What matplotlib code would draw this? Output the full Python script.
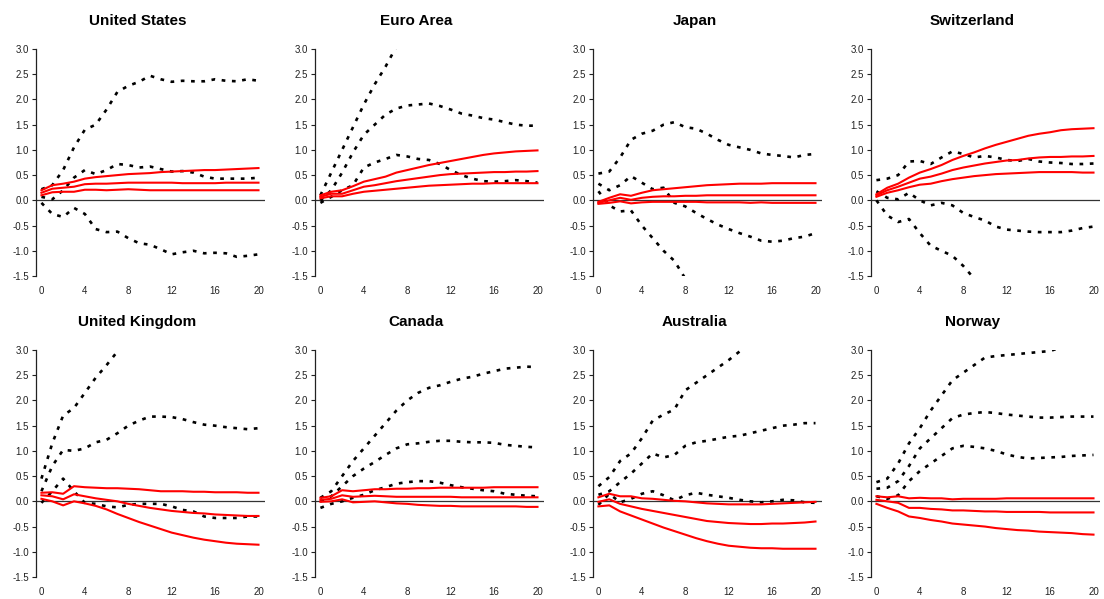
import matplotlib
matplotlib.use("Agg")
import matplotlib.pyplot as plt

plt.rcParams['font.family'] = ['Liberation Sans', 'DejaVu Sans']

horizon = list(range(21))
countries = ["United States", "Euro Area", "Japan", "Switzerland",
             "United Kingdom", "Canada", "Australia", "Norway"]
x_ticks = [0, 4, 8, 12, 16, 20]
y_ticks = [-1.5, -1.0, -0.5, 0.0, 0.5, 1.0, 1.5, 2.0, 2.5, 3.0]

# red lines: point estimates (upper, middle, lower)
us_red = [
    [0.2, 0.3, 0.33, 0.37, 0.43, 0.46, 0.48, 0.5, 0.52, 0.53, 0.54, 0.56, 0.57, 0.58, 0.59, 0.6, 0.6, 0.61, 0.62, 0.63, 0.64],
    [0.15, 0.23, 0.25, 0.27, 0.32, 0.33, 0.33, 0.34, 0.35, 0.35, 0.35, 0.35, 0.35, 0.34, 0.34, 0.34, 0.34, 0.35, 0.35, 0.35, 0.35],
    [0.1, 0.16, 0.17, 0.17, 0.21, 0.21, 0.2, 0.21, 0.22, 0.21, 0.2, 0.2, 0.2, 0.2, 0.2, 0.2, 0.2, 0.2, 0.2, 0.2, 0.2],
]
us_band = [
    [0.22, 0.3, 0.6, 1.05, 1.4, 1.5, 1.8, 2.15, 2.27, 2.35, 2.47, 2.4, 2.35, 2.37, 2.36, 2.36, 2.4, 2.37, 2.36, 2.4, 2.37],
    [0.07, 0.02, 0.2, 0.45, 0.6, 0.52, 0.6, 0.72, 0.7, 0.65, 0.67, 0.62, 0.57, 0.58, 0.55, 0.47, 0.43, 0.43, 0.43, 0.43, 0.45],
    [-0.05, -0.27, -0.33, -0.15, -0.27, -0.57, -0.63, -0.62, -0.75, -0.85, -0.88, -0.97, -1.07, -1.03, -1.0, -1.05, -1.04, -1.05, -1.12, -1.1, -1.07],
]

ea_red = [
    [0.1, 0.17, 0.2, 0.28, 0.37, 0.42, 0.47, 0.55, 0.6, 0.65, 0.7, 0.74, 0.78, 0.82, 0.86, 0.9, 0.93, 0.95, 0.97, 0.98, 0.99],
    [0.07, 0.13, 0.13, 0.2, 0.27, 0.3, 0.34, 0.38, 0.41, 0.44, 0.47, 0.5, 0.52, 0.53, 0.54, 0.55, 0.56, 0.56, 0.57, 0.57, 0.58],
    [0.04, 0.08, 0.08, 0.13, 0.17, 0.19, 0.21, 0.23, 0.25, 0.27, 0.29, 0.3, 0.31, 0.32, 0.33, 0.33, 0.34, 0.34, 0.34, 0.34, 0.34],
]
ea_band = [
    [0.1, 0.55, 1.0, 1.45, 1.9, 2.3, 2.65, 3.05, 3.4, 3.7, 3.9, 4.1, 4.2, 4.3, 4.4, 4.4, 4.5, 4.5, 4.5, 4.5, 4.5],
    [0.0, 0.2, 0.55, 0.95, 1.3, 1.5, 1.7, 1.82, 1.88, 1.9, 1.92, 1.87, 1.8, 1.72, 1.68, 1.63, 1.6, 1.55, 1.5, 1.48, 1.48],
    [-0.05, 0.07, 0.2, 0.3, 0.65, 0.75, 0.82, 0.9, 0.87, 0.82, 0.8, 0.72, 0.6, 0.5, 0.43, 0.38, 0.37, 0.38, 0.4, 0.38, 0.35],
]

jp_red = [
    [-0.03, 0.05, 0.12, 0.09, 0.15, 0.2, 0.22, 0.24, 0.26, 0.28, 0.3, 0.31, 0.32, 0.33, 0.33, 0.33, 0.34, 0.34, 0.34, 0.34, 0.34],
    [-0.05, 0.0, 0.05, 0.01, 0.05, 0.07, 0.08, 0.08, 0.09, 0.09, 0.1, 0.1, 0.1, 0.1, 0.1, 0.1, 0.1, 0.1, 0.1, 0.1, 0.1],
    [-0.07, -0.05, -0.02, -0.06, -0.04, -0.03, -0.03, -0.03, -0.03, -0.03, -0.04, -0.04, -0.04, -0.04, -0.05, -0.04, -0.05, -0.05, -0.05, -0.05, -0.05],
]
jp_band = [
    [0.53, 0.57, 0.85, 1.2, 1.32, 1.38, 1.5, 1.55, 1.45, 1.42, 1.32, 1.2, 1.1, 1.05, 1.0, 0.93, 0.9, 0.88, 0.85, 0.9, 0.92],
    [0.33, 0.2, 0.3, 0.48, 0.35, 0.22, 0.25, -0.05, -0.12, -0.25, -0.37, -0.48, -0.57, -0.65, -0.72, -0.8, -0.82, -0.8, -0.75, -0.72, -0.65],
    [0.18, -0.1, -0.22, -0.2, -0.5, -0.75, -1.0, -1.2, -1.55, -1.8, -2.0, -2.2, -2.3, -2.4, -2.5, -2.5, -2.6, -2.6, -2.6, -2.6, -2.6],
]

ch_red = [
    [0.12, 0.25, 0.33, 0.45, 0.55, 0.62, 0.7, 0.8, 0.88, 0.95, 1.03, 1.1, 1.16, 1.22, 1.28, 1.32, 1.35, 1.39, 1.41, 1.42, 1.43],
    [0.1, 0.2, 0.27, 0.35, 0.43, 0.47, 0.53, 0.6, 0.65, 0.69, 0.73, 0.76, 0.79, 0.8, 0.83, 0.85, 0.86, 0.86, 0.87, 0.87, 0.88],
    [0.07, 0.15, 0.2, 0.26, 0.31, 0.33, 0.38, 0.42, 0.45, 0.48, 0.5, 0.52, 0.53, 0.54, 0.55, 0.56, 0.56, 0.56, 0.56, 0.55, 0.55],
]
ch_band = [
    [0.4, 0.43, 0.5, 0.77, 0.78, 0.72, 0.85, 0.97, 0.92, 0.85, 0.88, 0.85, 0.8, 0.78, 0.82, 0.77, 0.75, 0.74, 0.72, 0.72, 0.73],
    [0.18, 0.05, 0.02, 0.15, 0.0, -0.1, -0.05, -0.1, -0.25, -0.33, -0.4, -0.52, -0.58, -0.6, -0.62, -0.63, -0.63, -0.63, -0.6, -0.55, -0.52],
    [0.0, -0.3, -0.43, -0.37, -0.65, -0.9, -1.0, -1.1, -1.3, -1.55, -1.75, -1.9, -2.0, -2.1, -2.2, -2.2, -2.3, -2.3, -2.3, -2.3, -2.3],
]

uk_red = [
    [0.17, 0.18, 0.15, 0.3, 0.28, 0.27, 0.26, 0.26, 0.25, 0.24, 0.22, 0.2, 0.2, 0.2, 0.19, 0.19, 0.18, 0.18, 0.18, 0.17, 0.17],
    [0.12, 0.1, 0.04, 0.14, 0.1, 0.06, 0.03, 0.0, -0.05, -0.09, -0.13, -0.16, -0.19, -0.21, -0.23, -0.24, -0.26, -0.27, -0.28, -0.29, -0.29],
    [0.05, 0.0, -0.08, 0.0, -0.04, -0.09, -0.16, -0.25, -0.33, -0.41, -0.48, -0.55, -0.62, -0.67, -0.72, -0.76, -0.79, -0.82, -0.84, -0.85, -0.86],
]
uk_band = [
    [0.45, 1.15, 1.7, 1.85, 2.15, 2.45, 2.7, 2.97, 3.3, 3.6, 3.8, 4.0, 4.1, 4.2, 4.3, 4.3, 4.4, 4.4, 4.4, 4.4, 4.4],
    [0.2, 0.7, 1.02, 1.0, 1.05, 1.17, 1.22, 1.35, 1.5, 1.6, 1.68, 1.68, 1.67, 1.63, 1.57, 1.52, 1.5, 1.47, 1.45, 1.43, 1.45],
    [-0.03, 0.2, 0.45, 0.2, -0.03, -0.05, -0.1, -0.12, -0.07, -0.05, -0.05, -0.05, -0.1, -0.17, -0.2, -0.3, -0.33, -0.33, -0.33, -0.3, -0.3],
]

ca_red = [
    [0.07, 0.1, 0.22, 0.2, 0.22, 0.24, 0.24, 0.25, 0.25, 0.26, 0.26, 0.27, 0.27, 0.27, 0.27, 0.27, 0.28, 0.28, 0.28, 0.28, 0.28],
    [0.03, 0.05, 0.12, 0.09, 0.1, 0.11, 0.1, 0.09, 0.09, 0.09, 0.09, 0.09, 0.09, 0.08, 0.08, 0.08, 0.08, 0.08, 0.08, 0.08, 0.08],
    [-0.01, 0.0, 0.04, -0.02, -0.01, 0.0, -0.02, -0.04, -0.05, -0.07, -0.08, -0.09, -0.09, -0.1, -0.1, -0.1, -0.1, -0.1, -0.1, -0.11, -0.11],
]
ca_band = [
    [0.07, 0.2, 0.5, 0.8, 1.05, 1.3, 1.55, 1.8, 2.0, 2.15, 2.25, 2.3, 2.37, 2.43, 2.47, 2.53, 2.58, 2.63, 2.65, 2.67, 2.66],
    [0.0, 0.1, 0.3, 0.5, 0.65, 0.78, 0.92, 1.05, 1.13, 1.15, 1.18, 1.2, 1.2, 1.18, 1.17, 1.17, 1.16, 1.12, 1.1, 1.08, 1.07],
    [-0.13, -0.05, 0.0, 0.07, 0.13, 0.22, 0.28, 0.35, 0.38, 0.4, 0.4, 0.37, 0.32, 0.28, 0.25, 0.22, 0.2, 0.15, 0.13, 0.11, 0.1],
]

au_red = [
    [0.08, 0.15, 0.1, 0.1, 0.06, 0.05, 0.03, 0.01, 0.0, -0.02, -0.04, -0.05, -0.06, -0.06, -0.06, -0.06, -0.05, -0.04, -0.03, -0.02, -0.01],
    [-0.01, 0.04, -0.05, -0.1, -0.15, -0.19, -0.23, -0.27, -0.31, -0.35, -0.39, -0.41, -0.43, -0.44, -0.45, -0.45, -0.44, -0.44, -0.43, -0.42, -0.4],
    [-0.1, -0.08, -0.2, -0.28, -0.36, -0.44, -0.52, -0.59, -0.66, -0.73, -0.79, -0.84, -0.88, -0.9, -0.92, -0.93, -0.93, -0.94, -0.94, -0.94, -0.94],
]
au_band = [
    [0.3, 0.48, 0.8, 0.95, 1.25, 1.6, 1.72, 1.82, 2.2, 2.35, 2.5, 2.65, 2.8, 2.97, 3.2, 3.4, 3.5, 3.6, 3.7, 3.8, 3.9],
    [0.13, 0.2, 0.38, 0.55, 0.75, 0.95, 0.87, 0.92, 1.1, 1.17, 1.2, 1.24, 1.28, 1.3, 1.35, 1.4, 1.45, 1.5, 1.52, 1.55, 1.55],
    [-0.07, 0.15, -0.02, 0.05, 0.15, 0.2, 0.12, 0.02, 0.12, 0.17, 0.13, 0.1, 0.07, 0.03, 0.0, -0.02, 0.0, 0.03, 0.02, -0.02, -0.03],
]

no_red = [
    [0.1, 0.08, 0.1, 0.06, 0.07, 0.06, 0.06, 0.04, 0.05, 0.05, 0.05, 0.05, 0.06, 0.06, 0.06, 0.06, 0.06, 0.06, 0.06, 0.06, 0.06],
    [0.03, 0.0, -0.03, -0.13, -0.13, -0.15, -0.16, -0.18, -0.18, -0.19, -0.2, -0.2, -0.21, -0.21, -0.21, -0.21, -0.22, -0.22, -0.22, -0.22, -0.22],
    [-0.05, -0.13, -0.2, -0.3, -0.33, -0.37, -0.4, -0.44, -0.46, -0.48, -0.5, -0.53, -0.55, -0.57, -0.58, -0.6, -0.61, -0.62, -0.63, -0.65, -0.66],
]
no_band = [
    [0.38, 0.45, 0.75, 1.15, 1.45, 1.8, 2.1, 2.4, 2.55, 2.7, 2.85, 2.88, 2.9, 2.92, 2.94, 2.96, 2.98, 3.05, 3.1, 3.15, 3.2],
    [0.25, 0.27, 0.4, 0.7, 1.05, 1.25, 1.45, 1.65, 1.72, 1.75, 1.77, 1.75, 1.72, 1.7, 1.68, 1.66, 1.66, 1.67, 1.68, 1.68, 1.68],
    [0.1, 0.05, 0.12, 0.4, 0.6, 0.75, 0.9, 1.05, 1.1, 1.08, 1.05, 1.0, 0.93, 0.88, 0.85, 0.86, 0.87, 0.88, 0.9, 0.91, 0.92],
]

red_sets = [us_red, ea_red, jp_red, ch_red, uk_red, ca_red, au_red, no_red]
band_sets = [us_band, ea_band, jp_band, ch_band, uk_band, ca_band, au_band, no_band]

fig = plt.figure(figsize=(11.04, 5.99), dpi=100)
W, H = 1104, 599
lefts = [36, 315, 593, 871]
tops = [49, 350]
pw, ph = 229, 227

for k, name in enumerate(countries):
    r, c = divmod(k, 4)
    ax = fig.add_axes([lefts[c] / W, 1 - (tops[r] + ph) / H, pw / W, ph / H])
    ax.set_xlim(-0.5, 20.6)
    ax.set_ylim(-1.5, 3.0)
    ax.axhline(0, color='#333333', lw=0.9, zorder=1)
    for line in band_sets[k]:
        ax.plot(horizon, line, color='black', lw=1.9, linestyle=(0, (1.4, 2.5)), zorder=2)
    for line in red_sets[k]:
        ax.plot(horizon, line, color='#ff0000', lw=1.5, zorder=3)
    for s in ['top', 'right', 'bottom']:
        ax.spines[s].set_visible(False)
    ax.spines['left'].set_color('#222222')
    ax.spines['left'].set_linewidth(0.9)
    ax.set_xticks(x_ticks)
    ax.set_yticks(y_ticks)
    ax.set_yticklabels([f"{v:.1f}" for v in y_ticks])
    ax.tick_params(axis='x', length=0, pad=7, labelsize=7, colors='#222222')
    ax.tick_params(axis='y', length=3, width=0.8, pad=2, labelsize=7, colors='#222222')
    ax.set_title(name, fontsize=11, fontweight='bold', x=0.443, pad=17)

fig.savefig("out.png", dpi=100)
